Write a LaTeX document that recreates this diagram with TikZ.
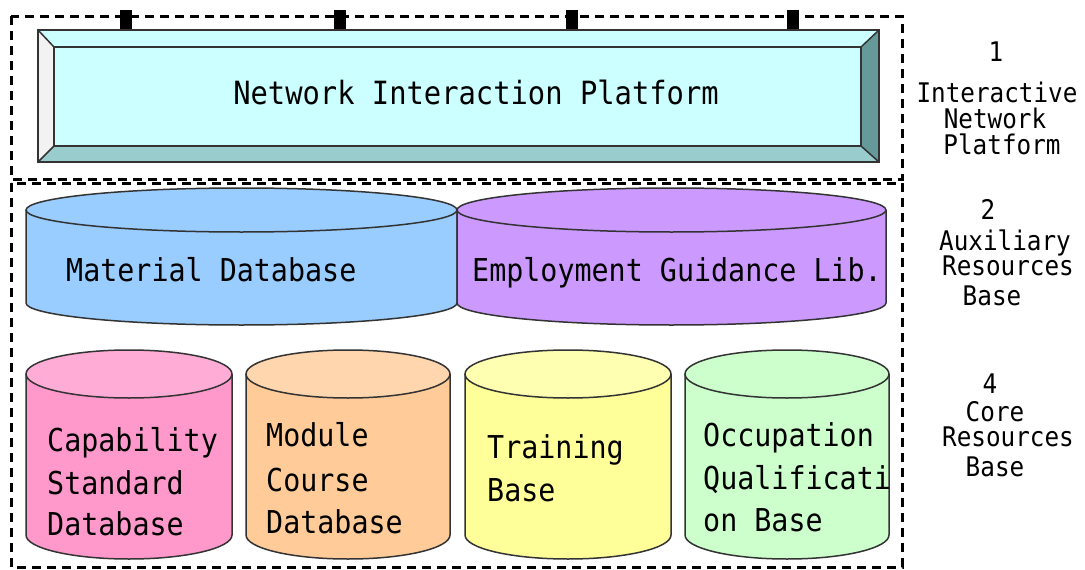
\documentclass[tikz,border=0pt]{standalone}
\usepackage{fontspec}
\newfontfamily\cnmono[FakeStretch=0.9]{DejaVu Sans Mono}
\definecolor{face}{HTML}{CCFFFF}
\definecolor{bevL}{HTML}{F2F2F2}
\definecolor{bevB}{HTML}{99CCCC}
\definecolor{bevR}{HTML}{669999}
\definecolor{cBlue}{HTML}{99CCFF}
\definecolor{cPurple}{HTML}{CC99FF}
\definecolor{cPink}{HTML}{FF99CC}
\definecolor{cOrange}{HTML}{FFCC99}
\definecolor{cYellow}{HTML}{FFFF99}
\definecolor{cGreen}{HTML}{CCFFCC}
\definecolor{outline}{HTML}{333333}
\newcommand\mycyl[7]{%
  \pgfmathsetmacro\cylrx{(#2-#1)/2}%
  \pgfmathsetmacro\cylcx{(#1+#2)/2}%
  \path[fill=#6] (#1,#3) -- (#1,#4) arc[start angle=180,end angle=0,x radius=\cylrx,y radius=#5] -- (#2,#3) arc[start angle=0,end angle=180,x radius=\cylrx,y radius=#5] -- cycle;
  \draw[outl] (#1,#3) -- (#1,#4) arc[start angle=180,end angle=0,x radius=\cylrx,y radius=#5] -- (#2,#3);
  \draw[outl,fill=#7] (\cylcx,#3) ellipse[x radius=\cylrx,y radius=#5];
}
\begin{document}
\begin{tikzpicture}[x=1pt,y=-1pt,
  dbox/.style={draw=black,line width=3pt,dash pattern=on 9pt off 6pt},
  outl/.style={draw=outline,line width=1.5pt},
  txt/.style={font=\cnmono\fontsize{31.5}{33}\selectfont,inner sep=0pt,anchor=base west},
  ttl/.style={font=\cnmono\fontsize{32}{33}\selectfont,inner sep=0pt,anchor=base},
  lab/.style={font=\cnmono\fontsize{27}{28}\selectfont,inner sep=0pt,anchor=base},
]
\useasboundingbox[fill=white] (0,0) rectangle (1085,570);

% dashed frames
\draw[dbox] (11,16) rectangle (902,179);
\draw[dbox] (11,183) rectangle (902,567);

% ticks
\foreach \tx in {126,340,572,793}
  \fill[black] (\tx-6,10) rectangle (\tx+6,30);

% bevelled platform
\fill[face] (38,30) -- (879,30) -- (861,47) -- (54,47) -- cycle;
\fill[bevL] (38,30) -- (54,47) -- (54,146) -- (38,162) -- cycle;
\fill[bevB] (38,162) -- (54,146) -- (861,146) -- (879,162) -- cycle;
\fill[bevR] (879,30) -- (879,162) -- (861,146) -- (861,47) -- cycle;
\draw[outl,fill=face] (54,47) rectangle (861,146);
\draw[outl] (38,30) rectangle (879,162);
\draw[outl] (38,30) -- (54,47) (879,30) -- (861,47) (38,162) -- (54,146) (879,162) -- (861,146);
\node[ttl] (nip) at (476,104) {Network Interaction Platform};

% auxiliary cylinders
\mycyl{26}{457}{210}{303}{22}{cBlue}{cBlue}
\mycyl{457}{886}{210}{303}{22}{cPurple}{cPurple}
\node[txt] (mat) at (66,281) {Material Database};
\node[txt] (emp) at (472,281) {Employment Guidance Lib.};

% core cylinders
\mycyl{26}{232}{374}{535}{24}{cPink}{cPink!80!white}
\mycyl{246}{450}{374}{535}{24}{cOrange}{cOrange!80!white}
\mycyl{465}{671}{374}{535}{24}{cYellow}{cYellow!75!white}
\mycyl{685}{889}{374}{535}{24}{cGreen}{cGreen}
\node[txt] (cap1) at (47,451) {Capability};
\node[txt] (cap2) at (47,494) {Standard};
\node[txt] (cap3) at (47,535) {Database};
\node[txt] (mod1) at (266,446) {Module};
\node[txt] (mod2) at (266,491) {Course};
\node[txt] (mod3) at (266,533) {Database};
\node[txt] (tra1) at (487,458) {Training};
\node[txt] (tra2) at (487,501) {Base};
\node[txt] (occ1) at (703,446) {Occupation};
\node[txt] (occ2) at (703,489) {Qualificati};
\node[txt] (occ3) at (703,531) {on Base};

% right labels
\node[lab] (l1n) at (996,61) {1};
\node[lab] (l1a) at (997,102) {Interactive};
\node[lab] (l1b) at (995,128) {Network};
\node[lab] (l1c) at (1002,154) {Platform};
\node[lab] (l2n) at (988,219) {2};
\node[lab] (l2a) at (1005,250) {Auxiliary};
\node[lab] (l2b) at (1008,275) {Resources};
\node[lab] (l2c) at (992,305) {Base};
\node[lab] (l4n) at (990,393) {4};
\node[lab] (l4a) at (995,421) {Core};
\node[lab] (l4b) at (1008,446) {Resources};
\node[lab] (l4c) at (995,476) {Base};
\end{tikzpicture}
\end{document}
